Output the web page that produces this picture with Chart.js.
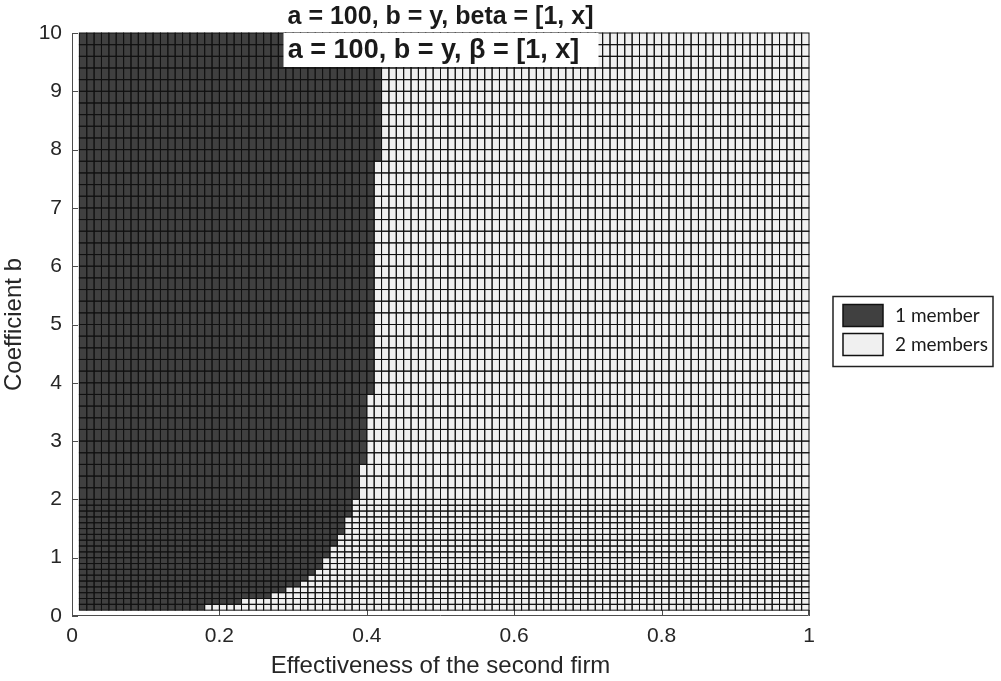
<!DOCTYPE html>
<html>
<head>
<meta charset="utf-8">
<script src="https://cdn.jsdelivr.net/npm/chart.js@4/dist/chart.umd.min.js"></script>
<style>
  html, body { margin: 0; padding: 0; background: #fff; }
  #wrap { width: 1001px; height: 681px; }
</style>
</head>
<body>
<div id="wrap"><canvas id="chart" width="1001" height="681"></canvas></div>
<script>
// row edges of the grid (b axis): fine below 2, coarse above
const rowEdges = [
  0.1, 0.2, 0.3, 0.4, 0.5, 0.6, 0.7, 0.8, 0.9, 1.0,
  1.1, 1.2, 1.3, 1.4, 1.5, 1.6, 1.7, 1.8, 1.9, 2.0,
  2.2, 2.4, 2.6, 2.8, 3.0, 3.2, 3.4, 3.6, 3.8, 4.0,
  4.2, 4.4, 4.6, 4.8, 5.0, 5.2, 5.4, 5.6, 5.8, 6.0,
  6.2, 6.4, 6.6, 6.8, 7.0, 7.2, 7.4, 7.6, 7.8, 8.0,
  8.2, 8.4, 8.6, 8.8, 9.0, 9.2, 9.4, 9.6, 9.8, 10.0
];
// for each row: effectiveness where "1 member" region ends
const oneMemberUntil = [
  0.18, 0.23, 0.27, 0.29, 0.31, 0.32, 0.33, 0.34, 0.34, 0.35,
  0.35, 0.36, 0.36, 0.37, 0.37, 0.37, 0.38, 0.38, 0.38,
  0.39, 0.39, 0.39, 0.40, 0.40, 0.40, 0.40, 0.40, 0.40,
  0.41, 0.41, 0.41, 0.41, 0.41, 0.41, 0.41, 0.41, 0.41, 0.41,
  0.41, 0.41, 0.41, 0.41, 0.41, 0.41, 0.41, 0.41, 0.41, 0.41,
  0.42, 0.42, 0.42, 0.42, 0.42, 0.42, 0.42, 0.42, 0.42, 0.42, 0.42
];
// column edges (effectiveness axis), 0.01 .. 1.00
const colEdges = Array.from({ length: 100 }, (_, i) => +((i + 1) / 100).toFixed(2));

const xTicks = [0, 0.2, 0.4, 0.6, 0.8, 1];
const yTicks = [0, 1, 2, 3, 4, 5, 6, 7, 8, 9, 10];
const legendLabels = ['1 member', '2 members'];
const legendColors = ['#404040', '#f0f0f0'];
const titleLine1 = 'a = 100, b = y, beta = [1, x]';
const titleLine2 = 'a = 100, b = y, \u03B2 = [1, x]';

// build the cells
const cells = [];
for (let r = 0; r < rowEdges.length - 1; r++) {
  for (let c = 0; c < colEdges.length - 1; c++) {
    cells.push({
      x: colEdges[c], x2: colEdges[c + 1],
      y: rowEdges[r], y2: rowEdges[r + 1],
      v: colEdges[c] < oneMemberUntil[r] - 1e-9 ? 0 : 1
    });
  }
}

const FONT = '"Liberation Sans", Arial, sans-serif';

const cellPlugin = {
  id: 'cellPlugin',
  beforeDatasetsDraw(chart) {
    const { ctx, chartArea: { top, bottom, left, right }, scales: { x, y } } = chart;
    ctx.save();
    // frame
    ctx.strokeStyle = '#4d4d4d';
    ctx.lineWidth = 1;
    ctx.beginPath();
    ctx.moveTo(left + 0.5, top);
    ctx.lineTo(left + 0.5, bottom - 0.5);
    ctx.lineTo(right - 0.5, bottom - 0.5);
    ctx.lineTo(right - 0.5, top);
    ctx.stroke();
    // ticks inward
    yTicks.forEach(t => {
      const py = Math.round(y.getPixelForValue(t)) + 0.5;
      ctx.beginPath(); ctx.moveTo(left, py); ctx.lineTo(left + 6, py); ctx.stroke();
    });
    xTicks.forEach(t => {
      const px = Math.round(x.getPixelForValue(t)) + 0.5;
      ctx.beginPath(); ctx.moveTo(px, bottom); ctx.lineTo(px, bottom - 6); ctx.stroke();
    });
    // cells
    const ds = chart.data.datasets[0].data;
    ctx.lineWidth = 1;
    ds.forEach(c => {
      const x0 = x.getPixelForValue(c.x), x1 = x.getPixelForValue(c.x2);
      const y0 = y.getPixelForValue(c.y), y1 = y.getPixelForValue(c.y2);
      ctx.fillStyle = legendColors[c.v];
      ctx.fillRect(x0, y1, x1 - x0, y0 - y1);
    });
    ctx.strokeStyle = '#111';
    ds.forEach(c => {
      const x0 = x.getPixelForValue(c.x), x1 = x.getPixelForValue(c.x2);
      const y0 = y.getPixelForValue(c.y), y1 = y.getPixelForValue(c.y2);
      ctx.strokeRect(x0, y1, x1 - x0, y0 - y1);
    });
    ctx.restore();
  },
  afterDraw(chart) {
    const { ctx, chartArea: { top, bottom, left, right } } = chart;
    const cx = (left + right) / 2;
    ctx.save();
    // titles
    ctx.textAlign = 'center';
    ctx.textBaseline = 'middle';
    ctx.fillStyle = '#1a1a1a';
    ctx.font = 'bold 25px ' + FONT;
    ctx.fillText(titleLine1, cx, 17);
    ctx.font = 'bold 27px ' + FONT;
    ctx.fillStyle = '#fff';
    ctx.fillRect(cx - 157, top, 315, 34);
    ctx.fillStyle = '#1a1a1a';
    ctx.fillText(titleLine2, cx - 7, top + 18);
    // legend
    const lx = right + 24, ly = (top + bottom) / 2 - 28;
    ctx.fillStyle = '#fff';
    ctx.fillRect(lx, ly, 160, 70);
    ctx.strokeStyle = '#222';
    ctx.lineWidth = 1.5;
    ctx.strokeRect(lx, ly, 160, 70);
    ctx.textAlign = 'left';
    ctx.font = '19px Lato, ' + FONT;
    legendLabels.forEach((lab, i) => {
      const sy = ly + 8 + i * 29;
      ctx.fillStyle = legendColors[i];
      ctx.fillRect(lx + 10, sy, 40, 22);
      ctx.strokeStyle = '#111';
      ctx.strokeRect(lx + 10, sy, 40, 22);
      ctx.fillStyle = '#1a1a1a';
      ctx.fillText(lab, lx + 62, sy + 11);
    });
    ctx.restore();
  }
};

const config = {
  type: 'scatter',
  data: {
    datasets: [{
      data: cells,
      pointRadius: 0,
      pointHoverRadius: 0,
      showLine: false
    }]
  },
  options: {
    responsive: false,
    animation: false,
    events: [],
    layout: { padding: { top: 33, right: 192, left: 0, bottom: 0 } },
    plugins: { legend: { display: false }, tooltip: { enabled: false } },
    scales: {
      x: {
        type: 'linear', min: 0, max: 1,
        afterBuildTicks(s) { s.ticks = xTicks.map(v => ({ value: v })); },
        afterFit(s) { s.height = 65; },
        grid: { display: false, drawTicks: false },
        border: { display: false },
        ticks: { color: '#262626', font: { family: FONT, size: 21 }, padding: 8, maxRotation: 0,
                 callback: v => String(v) },
        title: { display: true, text: 'Effectiveness of the second firm', color: '#262626',
                 font: { family: FONT, size: 24 }, padding: { top: 0, bottom: 0 } }
      },
      y: {
        type: 'linear', min: 0, max: 10,
        afterBuildTicks(s) { s.ticks = yTicks.map(v => ({ value: v })); },
        afterFit(s) { s.width = 72; },
        grid: { display: false, drawTicks: false },
        border: { display: false },
        ticks: { color: '#262626', font: { family: FONT, size: 21 }, padding: 10,
                 callback: v => String(v) },
        title: { display: true, text: 'Coefficient b', color: '#262626',
                 font: { family: FONT, size: 24 }, padding: { top: 0, bottom: 0 } }
      }
    }
  },
  plugins: [cellPlugin]
};

new Chart(document.getElementById('chart'), config);
</script>
</body>
</html>
